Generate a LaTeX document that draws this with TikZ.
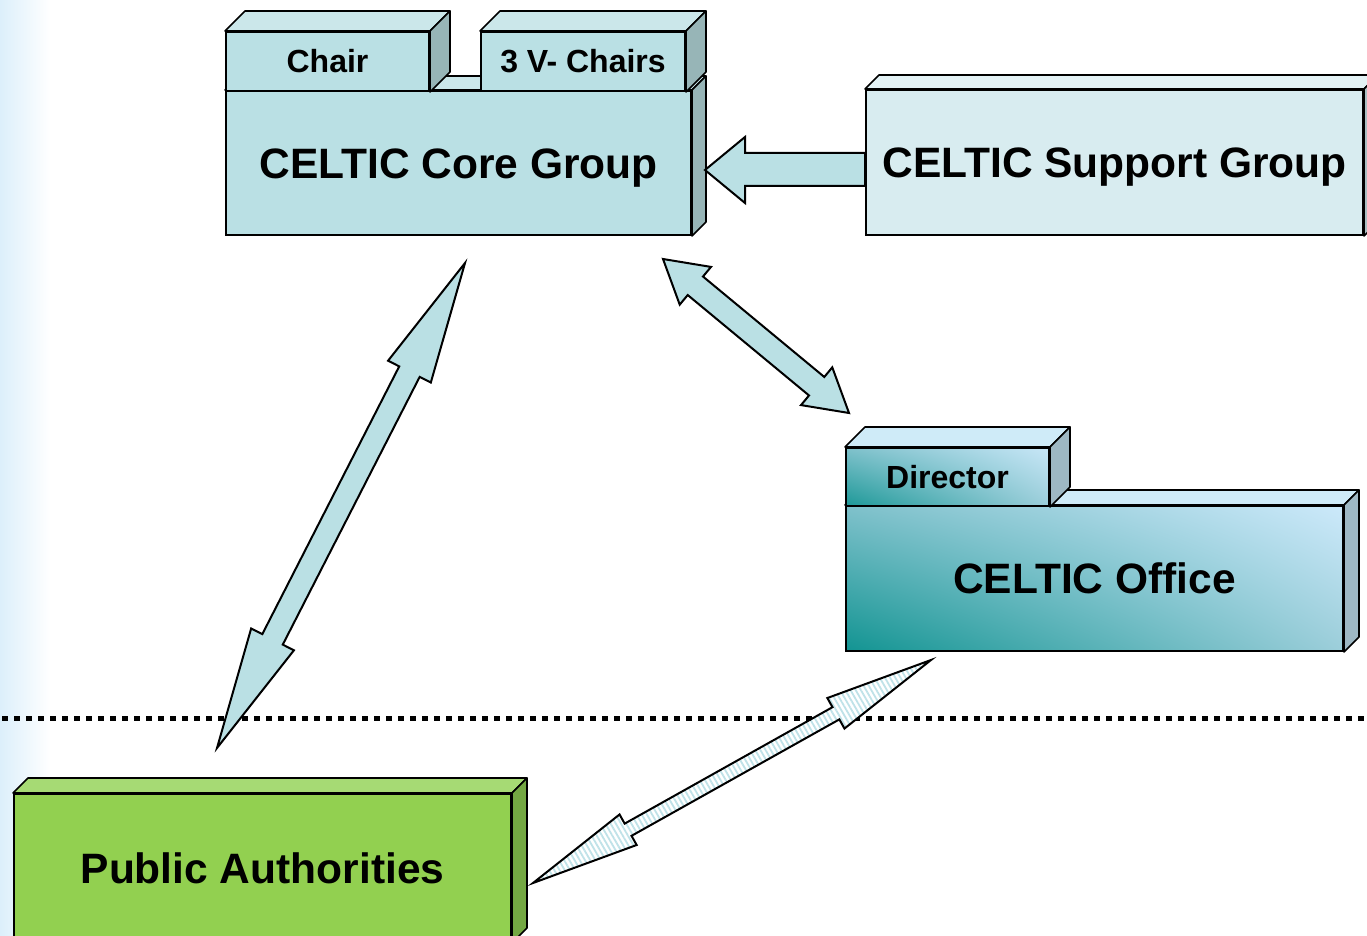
\documentclass[tikz,border=0pt]{standalone}
\usepackage{fontspec}
\setmainfont{Liberation Sans}
\usetikzlibrary{calc,patterns.meta,shadings}
\definecolor{corefront}{HTML}{BAE0E4}
\definecolor{coretop}{HTML}{CBE7EA}
\definecolor{coreside}{HTML}{97B5B7}
\definecolor{supfront}{HTML}{D8ECF0}
\definecolor{suptop}{HTML}{E3F2F5}
\definecolor{supside}{HTML}{A9C0C3}
\definecolor{greenfront}{HTML}{92D050}
\definecolor{greentop}{HTML}{A6DA74}
\definecolor{greenside}{HTML}{74A843}
\definecolor{offdark}{HTML}{129492}
\definecolor{offlight}{HTML}{CCE9FA}
\definecolor{offmidA}{HTML}{7FC1CB}
\definecolor{offmidB}{HTML}{9CCEDA}
\definecolor{offtop}{HTML}{CFEBF8}
\definecolor{offside}{HTML}{9EB8C4}
\definecolor{bgblue}{HTML}{DCEFFB}
\definecolor{hatch}{HTML}{BFE2E8}
\tikzset{
  big/.style={font=\fontsize{42.5}{50}\selectfont\bfseries, text height=30.5pt, text depth=0pt},
  small/.style={font=\fontsize{32}{38}\selectfont\bfseries, text height=23pt, text depth=0pt},
  frontface/.style={draw=black, line width=2pt, anchor=north west, inner sep=0pt},
  face/.style={draw=black, line width=1.6pt, line join=round},
  blockarr/.style={draw=black, line width=2pt, line join=miter, fill=corefront},
  hatcharr/.style={draw=black, line width=2pt, line join=miter,
     preaction={fill=white},
     pattern={Lines[angle=-60, distance=4.5pt, line width=1.8pt]}, pattern color=hatch},
  divider/.style={line width=5pt, dash pattern=on 6pt off 6pt},
}
% faces of a 3D box: node name, depth, top colour, side colour
\newcommand\boxfaces[4]{%
  \draw[face, fill=#3] (#1.north west) -- ++(#2,-#2) -- ($(#1.north east)+(#2,-#2)$) -- (#1.north east) -- cycle;
  \draw[face, fill=#4] (#1.north east) -- ++(#2,-#2) -- ($(#1.south east)+(#2,-#2)$) -- (#1.south east) -- cycle;
}
% double block arrow: style, tip A, tip B, head length, head half width, shaft half width
\newcommand\dblarrow[6]{%
  \coordinate (hA) at ($(#2)!#4!(#3)$);
  \coordinate (hB) at ($(#3)!#4!(#2)$);
  \draw[#1] (#2) -- ($(hA)!#5!90:(#3)$) -- ($(hA)!#6!90:(#3)$)
     -- ($(hB)!#6!-90:(#2)$) -- ($(hB)!#5!-90:(#2)$) -- (#3)
     -- ($(hB)!#5!90:(#2)$) -- ($(hB)!#6!90:(#2)$)
     -- ($(hA)!#6!-90:(#3)$) -- ($(hA)!#5!-90:(#3)$) -- cycle;
}
\begin{document}
\begin{tikzpicture}[x=1pt, y=-1pt]
\clip (0,0) rectangle (1367,936);
\fill[white] (0,0) rectangle (1367,936);
\shade[left color=bgblue, right color=white] (0,0) rectangle (50,936);

% dotted divider
\coordinate (divL) at (2,718);
\coordinate (divR) at (1367,718);
\draw[divider] (divL) -- (divR);

% CELTIC Core Group
\node[frontface, fill=corefront, minimum width=465pt, minimum height=144pt, big] (core) at (225,90) {CELTIC Core Group};
\boxfaces{core}{14}{coretop}{coreside}
\node[frontface, fill=corefront, minimum width=203pt, minimum height=59pt, small] (chair) at (225,31) {Chair};
\boxfaces{chair}{20}{coretop}{coreside}
\node[frontface, fill=corefront, minimum width=204pt, minimum height=59pt, small] (vchairs) at (480,31) {3 V- Chairs};
\boxfaces{vchairs}{20}{coretop}{coreside}

% support arrow (single, pointing left)
\coordinate (sTip) at (705,170);
\coordinate (sTail) at (865,169.5);
\draw[blockarr] (sTip) -- (745,137) -- (745,153) -- (sTail |- 0,153) -- (sTail |- 0,186) -- (745,186) -- (745,203) -- cycle;

% CELTIC Support Group
\node[frontface, fill=supfront, minimum width=497pt, minimum height=145pt, big] (support) at (865,89) {CELTIC Support Group};
\boxfaces{support}{14}{suptop}{supside}

% CELTIC Office
\node[frontface, minimum width=497pt, minimum height=145pt, big, shade,
      lower left=offdark, upper right=offlight, upper left=offmidA, lower right=offmidB] (office) at (845,505) {CELTIC Office};
\boxfaces{office}{15}{offtop}{offside}
\node[frontface, minimum width=203pt, minimum height=58pt, small, shade,
      lower left=offdark!90!offmidA, upper right=offlight!90!offmidB, upper left=offmidA, lower right=offmidB] (director) at (845,447) {Director};
\boxfaces{director}{20}{offtop}{offside}

% Public Authorities
\node[frontface, fill=greenfront, minimum width=497pt, minimum height=148pt, big] (public) at (13,793) {Public Authorities};
\boxfaces{public}{15}{greentop}{greenside}

% connectors
\coordinate (coreA) at (663,259);
\coordinate (officeA) at (849,413);
\dblarrow{blockarr}{coreA}{officeA}{42pt}{24.5pt}{12pt}

\coordinate (coreB) at (465,263);
\coordinate (publicA) at (217,748);
\dblarrow{blockarr}{coreB}{publicA}{122pt}{24pt}{11.5pt}

\coordinate (officeB) at (931,660);
\coordinate (publicB) at (533,883);
\dblarrow{hatcharr}{officeB}{publicB}{109pt}{17.5pt}{7pt}
\end{tikzpicture}
\end{document}
